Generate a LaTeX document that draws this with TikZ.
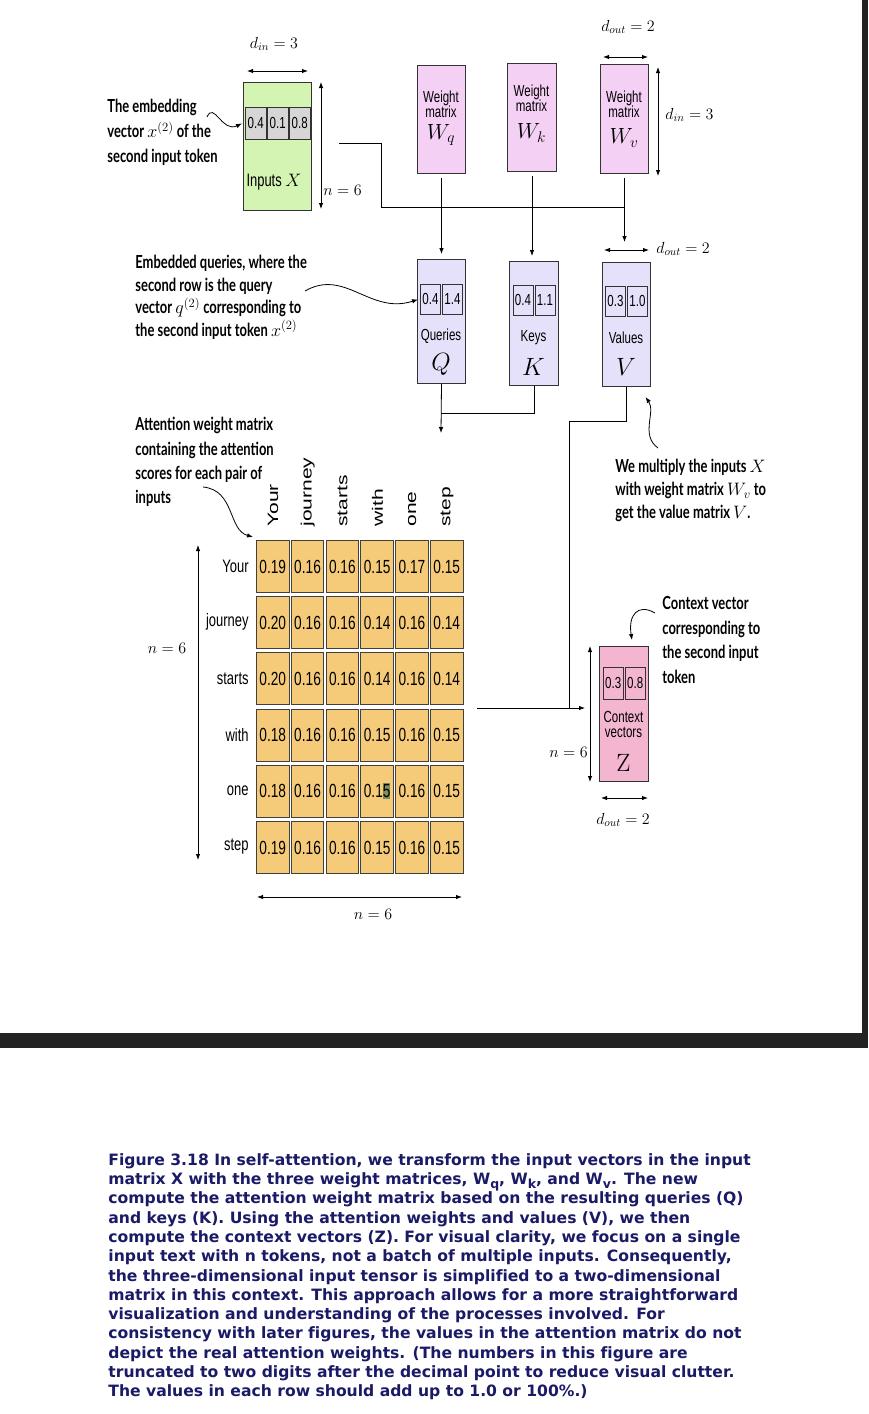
\RequirePackage{fix-cm}
\documentclass[tikz,border=0pt]{standalone}
\usepackage{fontspec}
\usetikzlibrary{arrows.meta}
\newfontfamily\annf[FakeStretch=0.72]{Lato}
\newfontfamily\narr[FakeStretch=0.72]{Liberation Sans}
\newfontfamily\widef[FakeStretch=1.4]{Liberation Sans}
\newfontfamily\capf[Ligatures=NoCommon]{DejaVu Sans}
\definecolor{xgreen}{HTML}{D4F4B4}
\definecolor{wpink}{HTML}{F5D0F5}
\definecolor{qlav}{HTML}{E6E1FA}
\definecolor{morange}{HTML}{F5CB7A}
\definecolor{zpink}{HTML}{F3B5D0}
\definecolor{cgray}{HTML}{D6D6D6}
\definecolor{capblue}{HTML}{1A1A66}
\definecolor{band}{HTML}{232323}
\definecolor{hl}{HTML}{7F8F5A}
\setlength{\lineskiplimit}{-20pt}
\newcommand\csub[1]{\raisebox{-4pt}{\fontsize{12.5}{12.5}\selectfont #1}}
\newcommand\hlfive{{\setlength{\fboxsep}{0pt}\colorbox{hl}{\rule[-2pt]{0pt}{16pt}5}}}
\begin{document}
\begin{tikzpicture}[x=1pt,y=-1pt, line width=0.8pt, >={Latex[length=6pt,width=4.5pt]},
 box/.style={draw=black!80, line width=1pt, anchor=north west, inner sep=0pt},
 cell/.style={draw=black!80, line width=0.9pt, anchor=north west, inner sep=0pt, minimum width=20.5pt, minimum height=30pt, font=\narr\fontsize{16}{16}\selectfont},
 mcell/.style={draw=black!75, line width=1pt, fill=morange, anchor=north west, inner sep=0pt, minimum width=32.5pt, minimum height=52pt, font=\narr\fontsize{19}{19}\selectfont},
 lab/.style={inner sep=0pt, align=center, font=\narr\fontsize{16}{15}\selectfont},
 biglab/.style={inner sep=0pt, font=\fontsize{22}{22}\selectfont},
 dimlab/.style={inner sep=0pt, font=\fontsize{16}{16}\selectfont},
 ann/.style={inner sep=0pt, align=left, anchor=north west},
 rowlab/.style={inner sep=0pt, anchor=east, font=\narr\fontsize{18}{18}\selectfont},
 colhead/.style={inner sep=0pt, anchor=west, rotate=90, font=\widef\fontsize{15}{15}\selectfont},
 dimar/.style={<->, line width=0.9pt},
]
\fill[white] (0,0) rectangle (868,1414);
\useasboundingbox (0,0) rectangle (868,1414);
\fill[band] (0,1033) rectangle (868,1048);
\fill[band] (862,0) rectangle (868,1033);

% ---------- Inputs X
\node[box, fill=xgreen, minimum width=68pt, minimum height=128pt] (X) at (243,82) {};
\foreach \v [count=\i from 0] in {0.4,0.1,0.8}
  \node[cell, fill=cgray, minimum height=32pt] (x\i) at ({245+22*\i},107) {\v};
\node[lab, font=\narr\fontsize{18}{18}\selectfont] (Xl) at (274,182) {Inputs $X$};
\node[dimlab] (dinX) at (274,44) {$d_{in} = 3$};
\draw[dimar] ([xshift=4pt,yshift=11pt]X.north west) -- ([xshift=-4pt,yshift=11pt]X.north east);
\draw[dimar] ([xshift=9pt]X.north east) -- ([xshift=9pt,yshift=2pt]X.south east);
\node[dimlab, anchor=west] (nX) at (323,190) {$n = 6$};

% ---------- Weight matrices
\node[box, fill=wpink, minimum width=48pt, minimum height=108pt] (Wq) at (417,65) {};
\node[lab] (Wqt) at (441,104) {Weight\\matrix};
\node[biglab] (Wql) at (441,135) {$W_q$};
\node[box, fill=wpink, minimum width=49pt, minimum height=108pt] (Wk) at (507,63) {};
\node[lab] (Wkt) at (531.5,98) {Weight\\matrix};
\node[biglab] (Wkl) at (531.5,133) {$W_k$};
\node[box, fill=wpink, minimum width=48pt, minimum height=109pt] (Wv) at (600,64) {};
\node[lab] (Wvt) at (624,104) {Weight\\matrix};
\node[biglab] (Wvl) at (624,138) {$W_v$};
\node[dimlab] (doutW) at (628,27) {$d_{out} = 2$};
\draw[dimar] ([xshift=3pt,yshift=7pt]Wv.north west) -- ([xshift=-1pt,yshift=7pt]Wv.north east);
\draw[dimar] ([xshift=9pt,yshift=-3pt]Wv.north east) -- ([xshift=9pt,yshift=-2pt]Wv.south east);
\node[dimlab, anchor=west] (dinW) at (665,115) {$d_{in} = 3$};

% ---------- Q K V
\node[box, fill=qlav, minimum width=48pt, minimum height=124pt] (Q) at (417,259) {};
\foreach \v [count=\i from 0] in {0.4,1.4}
  \node[cell, fill=qlav, minimum width=20pt] (q\i) at ({420+22*\i},284) {\v};
\node[lab] (Ql) at (441,336) {Queries};
\node[biglab, font=\fontsize{25}{25}\selectfont] (Qs) at (441,364) {$Q$};

\node[box, fill=qlav, minimum width=49pt, minimum height=124pt] (K) at (509,261) {};
\foreach \v [count=\i from 0] in {0.4,1.1}
  \node[cell, fill=qlav, minimum width=20pt] (k\i) at ({512.5+22*\i},285) {\v};
\node[lab] (Kl) at (533.5,338) {Keys};
\node[biglab, font=\fontsize{25}{25}\selectfont] (Ks) at (533.5,367) {$K$};

\node[box, fill=qlav, minimum width=48pt, minimum height=124pt] (V) at (602,262) {};
\foreach \v [count=\i from 0] in {0.3,1.0}
  \node[cell, fill=qlav, minimum width=20pt] (v\i) at ({605+22*\i},286) {\v};
\node[lab] (Vl) at (626,338) {Values};
\node[biglab, font=\fontsize{25}{25}\selectfont] (Vs) at (626,367) {$V$};
\draw[dimar] ([xshift=2pt,yshift=12pt]V.north west) -- ([xshift=-2pt,yshift=12pt]V.north east);
\node[dimlab, anchor=west] (doutV) at (656,249) {$d_{out} = 2$};

% ---------- bus and connectors
\coordinate (xo) at (339,143);
\coordinate (bus) at (381,207);
\draw (xo) -| (bus) -- (bus -| Wv.south);
\draw[->, shorten <=4pt, shorten >=5pt] (Wq.south) -- (Wq.south |- Q.north);
\draw[->, shorten <=4pt, shorten >=5pt] (Wk.south) -- (Wk.south |- K.north);
\draw[->, shorten <=4pt] (Wv.south) -- ([yshift=20pt]Wv.south |- V.north);

\coordinate (qdown) at (441,433);
\draw[->] (Q.south) -- (qdown);
\coordinate (kq) at (441,413);
\draw (K.south) |- (kq);
\coordinate (vb) at (569,421);
\coordinate (mo) at (477,708);
\coordinate (zi) at (585,708);
\draw (V.south) |- (vb) -- (vb |- mo);
\draw[->] (mo) -- (zi);

% ---------- attention matrix
\foreach \h [count=\c from 0] in {Your,journey,starts,with,one,step}
  \node[colhead] (h\c) at ({273+34.8*\c},527) {\h};
\foreach \lab/\vals [count=\r from 0] in {
  Your/{0.19,0.16,0.16,0.15,0.17,0.15},
  journey/{0.20,0.16,0.16,0.14,0.16,0.14},
  starts/{0.20,0.16,0.16,0.14,0.16,0.14},
  with/{0.18,0.16,0.16,0.15,0.16,0.15},
  one/{0.18,0.16,0.16,0.1\hlfive,0.16,0.15},
  step/{0.19,0.16,0.16,0.15,0.16,0.15}} {
  \node[rowlab] (r\r) at (249,{566+56.2*\r}) {\lab};
  \foreach \v [count=\c from 0] in \vals
    \node[mcell] (m\r\c) at ({256+34.8*\c},{540+56.2*\r}) {\v};
}
\coordinate (mv1) at (198,545);
\coordinate (mv2) at (198,860);
\draw[dimar] (mv1) -- (mv2);
\node[dimlab] (nml) at (167,648) {$n = 6$};
\coordinate (mh1) at (257,897);
\coordinate (mh2) at (462,897);
\draw[dimar] (mh1) -- (mh2);
\node[dimlab] (nmb) at (373,914) {$n = 6$};

% ---------- context vectors Z
\node[box, fill=zpink, minimum width=49pt, minimum height=135pt] (Z) at (599,646) {};
\foreach \v [count=\i from 0] in {0.3,0.8}
  \node[cell, fill=zpink, minimum width=19.5pt, minimum height=32pt] (z\i) at ({603+22*\i},667) {\v};
\node[lab] (Zl) at (623.5,724) {Context\\vectors};
\node[biglab, font=\fontsize{25}{25}\selectfont] (Zs) at (623.5,763) {$\mathrm{Z}$};
\draw[dimar] ([xshift=-9pt]Z.north west) -- ([xshift=-9pt]Z.south west);
\node[dimlab, anchor=east] (nZ) at (588,752) {$n = 6$};
\draw[dimar] ([xshift=2pt,yshift=-16pt]Z.south west) -- ([xshift=-1pt,yshift=-16pt]Z.south east);
\node[dimlab] (doutZ) at (623,820) {$d_{out} = 2$};

% ---------- annotations
\node[ann, font=\annf\bfseries\fontsize{18}{25}\selectfont] (a1) at (107,99)
  {The embedding\\vector $x^{(2)}$ of the\\second input token};
\coordinate (a1s) at (207,117);
\draw[->] (a1s) .. controls (214,101) and (222,133) .. ([xshift=-3pt]x0.west);

\node[ann, font=\annf\bfseries\fontsize{18}{22.5}\selectfont] (a2) at (135,255)
  {Embedded queries, where the\\second row is the query\\vector $q^{(2)}$ corresponding to\\the second input token $x^{(2)}$};
\coordinate (a2s) at (305,291);
\draw[->] (a2s) .. controls (345,268) and (370,315) .. ([xshift=-2pt]q0.west);

\node[ann, font=\annf\bfseries\fontsize{18}{24.3}\selectfont] (a3) at (135,417)
  {Attention weight matrix\\containing the attention\\scores for each pair of\\inputs};
\coordinate (a3s) at (203,487);
\draw[->] (a3s) .. controls (235,490) and (228,530) .. ([shift={(-3pt,3pt)}]m00.north west);

\node[ann, font=\annf\bfseries\fontsize{18}{23}\selectfont] (a4) at (615,459)
  {We multiply the inputs $X$\\with weight matrix $W_v$ to\\get the value matrix $V$.};
\coordinate (a4s) at (658,448);
\draw[->] (a4s) .. controls (640,435) and (656,412) .. ([shift={(19pt,-10pt)}]V.south);

\node[ann, font=\annf\bfseries\fontsize{18}{24.7}\selectfont] (a5) at (662,596)
  {Context vector\\corresponding to\\the second input\\token};
\coordinate (a5s) at (655,613);
\draw[->] (a5s) .. controls (638,603) and (628,615) .. ([shift={(8pt,6pt)}]Z.north);

% ---------- caption
\node[inner sep=0pt, anchor=north west, align=left, text=capblue,
  font=\capf\bfseries\fontsize{15.6}{19.3}\selectfont] (cap) at (108,1153) {%
Figure 3.18 In self-attention, we transform the input vectors in the input\\
matrix X with the three weight matrices, W\csub{q}, W\csub{k}, and W\csub{v}. The new\\
compute the attention weight matrix based on the resulting queries (Q)\\
and keys (K). Using the attention weights and values (V), we then\\
compute the context vectors (Z). For visual clarity, we focus on a single\\
input text with n tokens, not a batch of multiple inputs. Consequently,\\
the three-dimensional input tensor is simplified to a two-dimensional\\
matrix in this context. This approach allows for a more straightforward\\
visualization and understanding of the processes involved. For\\
consistency with later figures, the values in the attention matrix do not\\
depict the real attention weights. (The numbers in this figure are\\
truncated to two digits after the decimal point to reduce visual clutter.\\
The values in each row should add up to 1.0 or 100\%.)};
\end{tikzpicture}
\end{document}
